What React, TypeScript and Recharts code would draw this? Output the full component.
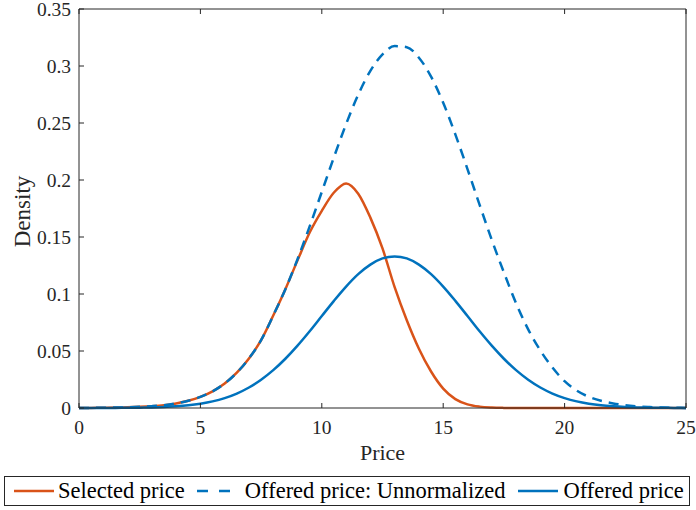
import { LineChart, Line, XAxis, YAxis } from 'recharts';

const prices = [
  0, 0.5, 1, 1.5, 2, 2.5, 3, 3.5, 4, 4.5, 5, 5.5, 6, 6.5, 7, 7.5, 8, 8.5, 9, 9.5,
  10, 10.5, 11, 11.5, 12, 12.5, 13, 13.5, 14, 14.5, 15, 15.5, 16, 16.5, 17, 17.5,
  18, 18.5, 19, 19.5, 20, 20.5, 21, 21.5, 22, 22.5, 23, 23.5, 24, 24.5, 25,
];

const selectedPrice = [
  0, 0.0001, 0.0002, 0.0004, 0.0006, 0.001, 0.0016, 0.0025, 0.004, 0.0063,
  0.0097, 0.0146, 0.0215, 0.031, 0.0435, 0.0595, 0.0811, 0.1042, 0.1295, 0.154,
  0.173, 0.189, 0.197, 0.188, 0.167, 0.14, 0.106, 0.077, 0.052, 0.032,
  0.017, 0.0078, 0.0032, 0.0012, 0.0004, 0.0001, 0, 0, 0, 0,
  0, 0, 0, 0, 0, 0, 0, 0, 0, 0, 0,
];

const offeredUnnormalized = [
  0.0001, 0.0001, 0.0002, 0.0004, 0.0006, 0.001, 0.0016, 0.0025, 0.004, 0.0063,
  0.0097, 0.0146, 0.0215, 0.031, 0.0435, 0.0595, 0.0811, 0.1042, 0.1305, 0.1593,
  0.1896, 0.22, 0.249, 0.2748, 0.2957, 0.3102, 0.3175, 0.3165, 0.3073, 0.2907,
  0.2677, 0.24, 0.2096, 0.1782, 0.1475, 0.1189, 0.092, 0.069, 0.0505, 0.0355,
  0.0235, 0.0152, 0.0098, 0.0063, 0.004, 0.0024, 0.0014, 0.0008, 0.0004, 0.0002, 0.0001,
];

const offeredPrice = [
  0, 0, 0, 0.0001, 0.0002, 0.0003, 0.0005, 0.0009, 0.0015, 0.0024,
  0.0038, 0.0058, 0.0087, 0.0127, 0.018, 0.0248, 0.0332, 0.0432, 0.0547, 0.0673,
  0.0807, 0.094, 0.1065, 0.1174, 0.1258, 0.1312, 0.133, 0.1312, 0.1258, 0.1174,
  0.1065, 0.094, 0.0807, 0.0673, 0.0547, 0.0432, 0.0332, 0.0248, 0.018, 0.0127,
  0.0087, 0.0058, 0.0038, 0.0024, 0.0015, 0.0009, 0.0005, 0.0003, 0.0002, 0.0001, 0,
];

const xTicks = [0, 5, 10, 15, 20, 25];
const yTicks = [0, 0.05, 0.1, 0.15, 0.2, 0.25, 0.3, 0.35];

const data = prices.map((p, i) => ({
  price: p,
  selected: selectedPrice[i],
  unnormalized: offeredUnnormalized[i],
  offered: offeredPrice[i],
}));

const ORANGE = '#D95319';
const BLUE = '#0072BD';
const AXIS = '#262626';
const FONT = 'Liberation Serif';

// serif tick labels, drawn by hand so the font sticks
const XTick = (props: any) => {
  const { x, y, payload } = props;
  return (
    <text x={x} y={y} dy={14} textAnchor="middle" fill={AXIS}
      style={{ fontFamily: FONT, fontSize: 19.5 }}>{payload.value}</text>
  );
};

const YTick = (props: any) => {
  const { x, y, payload } = props;
  return (
    <text x={x} y={y} dy={7} textAnchor="end" fill={AXIS}
      style={{ fontFamily: FONT, fontSize: 19.5 }}>{payload.value}</text>
  );
};

const LegendSample = ({ color, dashed }: { color: string; dashed?: boolean }) => (
  <svg width={42} height={12} style={{ display: 'block' }}>
    <line x1={1} y1={6} x2={41} y2={6} stroke={color} strokeWidth={2.5}
      strokeDasharray={dashed ? '11 11' : undefined} />
  </svg>
);

const App = () => {
  return (
    <div style={{ position: 'absolute', left: 0, top: 0, width: 696, height: 510, background: '#fff' }}>
      <LineChart width={696} height={510} data={data}
        margin={{ top: 8, right: 9, bottom: 42, left: 0 }}>
        <XAxis dataKey="price" type="number" domain={[0, 25]} ticks={xTicks}
          height={60} tickSize={-5} tickMargin={17} tick={<XTick />}
          stroke={AXIS} allowDataOverflow
          label={{
            content: (props: any) => {
              const vb = props.viewBox;
              return (
                <text x={vb.x + vb.width / 2} y={vb.y + 52} textAnchor="middle"
                  fill={AXIS} style={{ fontFamily: FONT, fontSize: 22 }}>Price</text>
              );
            },
          }} />
        <XAxis xAxisId="top" dataKey="price" type="number" domain={[0, 25]} ticks={xTicks}
          orientation="top" height={1} tickSize={-5} tickFormatter={() => ''} stroke={AXIS} />
        <YAxis type="number" domain={[0, 0.35]} ticks={yTicks} width={79}
          tickSize={-5} tickMargin={13} tick={<YTick />} stroke={AXIS}
          label={{
            content: (props: any) => {
              const vb = props.viewBox;
              const cx = vb.x + 22;
              const cy = vb.y + vb.height / 2 + 3;
              return (
                <text x={cx} y={cy} transform={`rotate(-90 ${cx} ${cy})`} textAnchor="middle"
                  dominantBaseline="central" fill={AXIS}
                  style={{ fontFamily: FONT, fontSize: 23 }}>Density</text>
              );
            },
          }} />
        <YAxis yAxisId="right" type="number" domain={[0, 0.35]} ticks={yTicks} orientation="right"
          width={1} tickSize={-5} tickFormatter={() => ''} stroke={AXIS} />
        <Line type="monotone" dataKey="selected" stroke={ORANGE} strokeWidth={2.5}
          dot={false} isAnimationActive={false} />
        <Line type="monotone" dataKey="unnormalized" stroke={BLUE} strokeWidth={2.5}
          strokeDasharray="10 7" dot={false} isAnimationActive={false} />
        <Line type="monotone" dataKey="offered" stroke={BLUE} strokeWidth={2.5}
          dot={false} isAnimationActive={false} />
      </LineChart>
      <div style={{
        position: 'absolute', left: 4, top: 476, width: 684, height: 28,
        border: `1px solid ${AXIS}`, background: '#fff', display: 'flex', alignItems: 'center',
        fontFamily: FONT, fontSize: 22.5, color: '#000', whiteSpace: 'nowrap',
      }}>
        <div style={{ marginLeft: 8 }}><LegendSample color={ORANGE} /></div>
        <span style={{ marginLeft: 3 }}>Selected price</span>
        <div style={{ marginLeft: 11 }}><LegendSample color={BLUE} dashed /></div>
        <span style={{ marginLeft: 7 }}>Offered price: Unnormalized</span>
        <div style={{ marginLeft: 11 }}><LegendSample color={BLUE} /></div>
        <span style={{ marginLeft: 5 }}>Offered price</span>
      </div>
    </div>
  );
};

export default App;
